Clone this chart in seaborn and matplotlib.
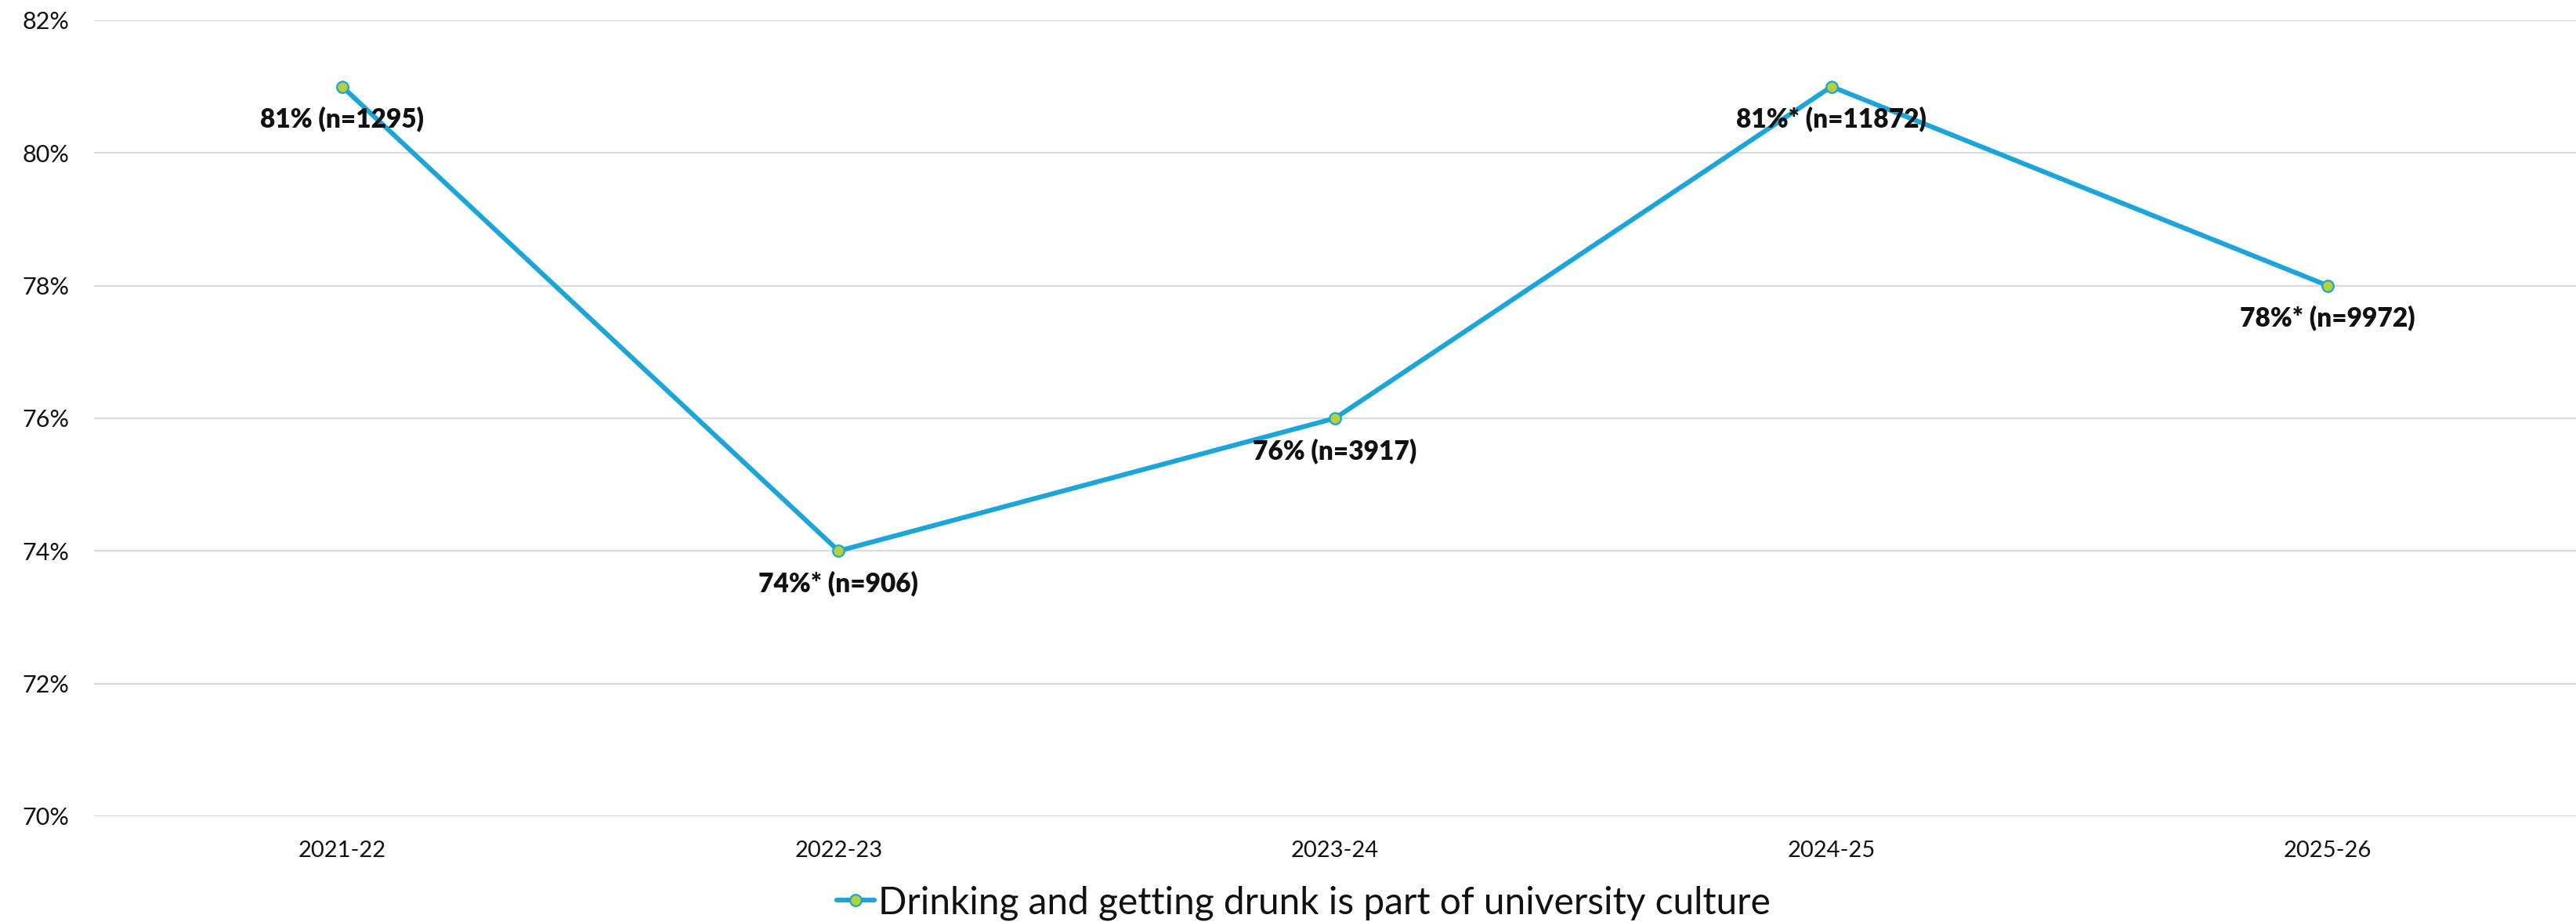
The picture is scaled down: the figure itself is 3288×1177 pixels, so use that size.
import matplotlib
matplotlib.use("Agg")
import matplotlib.pyplot as plt
import seaborn as sns
import pandas as pd
from matplotlib.ticker import FuncFormatter

# Chart values
years = ['2021-22', '2022-23', '2023-24', '2024-25', '2025-26']
agree_pct = [81, 74, 76, 81, 78]
point_labels = ['81% (n=1295)', '74%* (n=906)', '76% (n=3917)',
                '81%* (n=11872)', '78%* (n=9972)']
series_name = 'Drinking and getting drunk is part of university culture'
y_ticks = [70, 72, 74, 76, 78, 80, 82]

df = pd.DataFrame({'year': years, 'pct': agree_pct})

sns.set_theme(style='white')
plt.rcParams['font.family'] = ['Lato', 'DejaVu Sans']

line_col = '#1BA5DA'
dot_col = '#B5D334'

fig = plt.figure(figsize=(32.88, 11.77), dpi=100)
ax = fig.add_axes([0.0365, 0.1147, 0.9635, 0.8633])

sns.lineplot(data=df, x='year', y='pct', ax=ax, sort=False,
             color=line_col, linewidth=4.4, marker='o', markersize=10.5,
             markerfacecolor=dot_col, markeredgecolor=line_col,
             markeredgewidth=1.6, label=series_name)

# data labels under each point
for i, (v, lab) in enumerate(zip(agree_pct, point_labels)):
    ax.annotate(lab, (i, v), xytext=(0, -30), textcoords='offset points',
                ha='center', va='center', fontsize=24, fontweight='heavy',
                color='#111111')

ax.set_xlim(-0.5, len(years) - 0.5)
ax.set_ylim(70, 82)
ax.set_yticks(y_ticks)
ax.yaxis.set_major_formatter(FuncFormatter(lambda v, p: f'{v:.0f}%'))
ax.grid(axis='y', color='#D9DCDC', linewidth=1.6)
ax.grid(axis='x', visible=False)
for s in ax.spines.values():
    s.set_visible(False)
ax.tick_params(axis='y', length=0, pad=23, labelsize=22, labelcolor='#111111')
ax.tick_params(axis='x', length=0, pad=22, labelsize=21, labelcolor='#111111')
ax.set_xlabel('')
ax.set_ylabel('')

leg = ax.legend(loc='center', bbox_to_anchor=(0.506, 0.021),
                bbox_transform=fig.transFigure, frameon=False,
                fontsize=34.5, handlelength=1.0, handletextpad=0.1)
for t in leg.get_texts():
    t.set_color('#111111')

fig.savefig('out.png', dpi=100)
